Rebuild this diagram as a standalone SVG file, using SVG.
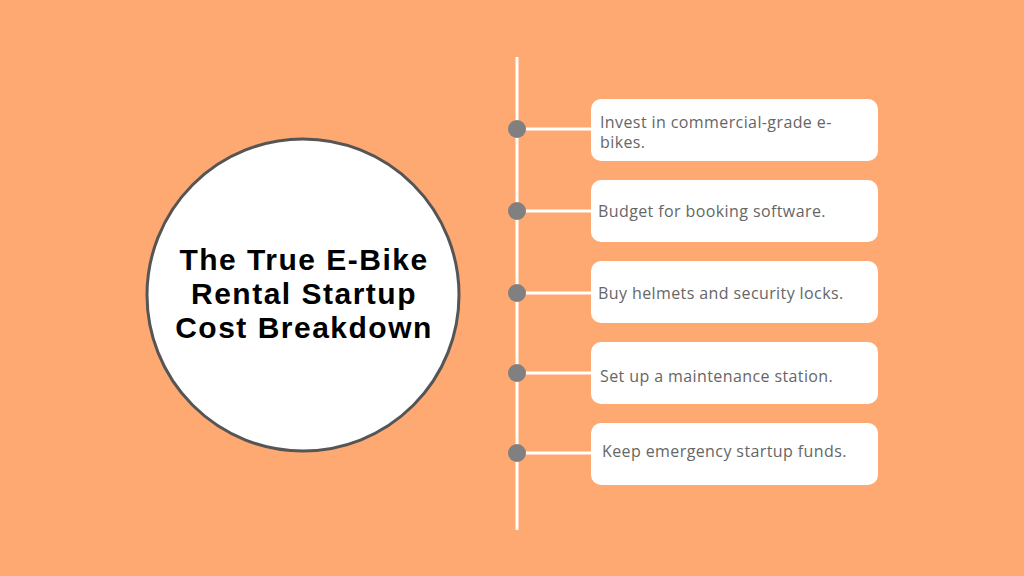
<svg xmlns="http://www.w3.org/2000/svg" width="1024" height="576" viewBox="0 0 1024 576">
<style>
.box{fill:#ffffff}
.dot{fill:#808080}
.conn{stroke:#ffffff;stroke-width:3;fill:none}
.lbl{font-family:"Open Sans","Liberation Sans",sans-serif;font-size:16px;letter-spacing:0.4px;fill:#666666}
.title{font-family:"Liberation Sans","Arial",sans-serif;font-size:30px;font-weight:bold;fill:#000000;text-anchor:middle;letter-spacing:1.5px}
</style>
<rect width="1024" height="576" fill="#FEA872"/>
<g id="connectors">
<line class="conn" x1="517" y1="57" x2="517" y2="530"/>
<line class="conn" x1="517" y1="129" x2="592" y2="129"/>
<line class="conn" x1="517" y1="211" x2="592" y2="211"/>
<line class="conn" x1="517" y1="293" x2="592" y2="293"/>
<line class="conn" x1="517" y1="373" x2="592" y2="373"/>
<line class="conn" x1="517" y1="453" x2="592" y2="453"/>
</g>
<g id="title-node">
<circle cx="303" cy="295" r="156" fill="#ffffff" stroke="#555555" stroke-width="3"/>
<text class="title" x="304" y="270">The True E-Bike</text>
<text class="title" x="304" y="304">Rental Startup</text>
<text class="title" x="304" y="338">Cost Breakdown</text>
</g>
<g id="dots">
<circle class="dot" cx="517" cy="129" r="9"/>
<circle class="dot" cx="517" cy="211" r="9"/>
<circle class="dot" cx="517" cy="293" r="9"/>
<circle class="dot" cx="517" cy="373" r="9"/>
<circle class="dot" cx="517" cy="453" r="9"/>
</g>
<g id="item1">
<rect class="box" x="591" y="99" width="287" height="62" rx="10"/>
<text class="lbl" x="600" y="128">Invest in commercial-grade e-</text>
<text class="lbl" x="600" y="148">bikes.</text>
</g>
<g id="item2">
<rect class="box" x="591" y="180" width="287" height="62" rx="10"/>
<text class="lbl" x="598" y="217">Budget for booking software.</text>
</g>
<g id="item3">
<rect class="box" x="591" y="261" width="287" height="62" rx="10"/>
<text class="lbl" x="598" y="299">Buy helmets and security locks.</text>
</g>
<g id="item4">
<rect class="box" x="591" y="342" width="287" height="62" rx="10"/>
<text class="lbl" x="600" y="382">Set up a maintenance station.</text>
</g>
<g id="item5">
<rect class="box" x="591" y="423" width="287" height="62" rx="10"/>
<text class="lbl" x="602" y="457">Keep emergency startup funds.</text>
</g>
</svg>
